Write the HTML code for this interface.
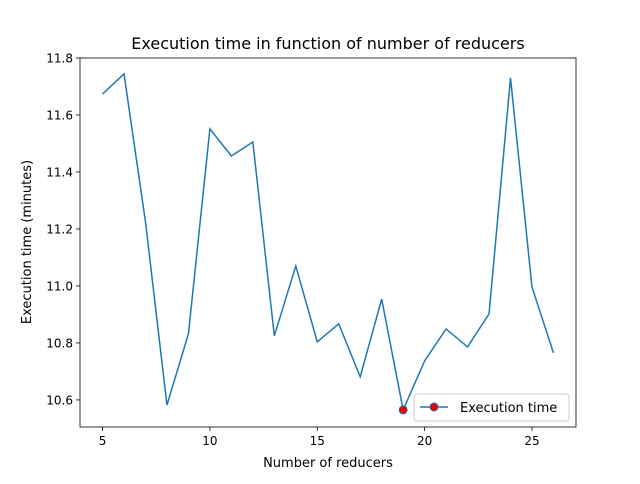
<!DOCTYPE html>
<html><head><meta charset="utf-8"><style>
body{margin:0;background:#fff;font-family:"DejaVu Sans","Liberation Sans",sans-serif;}
</style></head><body>
<svg id="chart" width="640" height="480" xmlns="http://www.w3.org/2000/svg">
<rect width="640" height="480" fill="#fff"/>
<text x="328" y="49" text-anchor="middle" font-size="16">Execution time in function of number of reducers</text>
<g id="plot"></g>
<rect x="80" y="58" width="496" height="369" fill="none" stroke="#000" stroke-width="0.8"/>
<text x="328" y="467" text-anchor="middle" font-size="13">Number of reducers</text>
<text transform="translate(31,242) rotate(-90)" text-anchor="middle" font-size="13">Execution time (minutes)</text>
<g>
<rect x="414" y="394" width="155" height="27" rx="3" fill="#fff" fill-opacity="0.8" stroke="#ccc"/>
<line x1="420" y1="407" x2="448" y2="407" stroke="#1f77b4" stroke-width="1.5"/>
<circle cx="434" cy="407" r="4" fill="#e00" stroke="#1f77b4"/>
<text x="460" y="412" font-size="13">Execution time</text>
</g>
</svg>
<script>
const reducers=[5,6,7,8,9,10,11,12,13,14,15,16,17,18,19,20,21,22,23,24,25,26];
const times=[11.674,11.744,11.225,10.582,10.832,11.551,11.456,11.505,10.825,11.070,10.804,10.867,10.681,10.954,10.565,10.737,10.849,10.786,10.902,11.730,10.996,10.765];
const xTicks=[5,10,15,20,25];
const yTicks=[10.6,10.8,11.0,11.2,11.4,11.6,11.8];
const NS="http://www.w3.org/2000/svg";
const L=80,R=576,T=58,B=427;
const xmin=3.95,xmax=27.05,ymin=10.505,ymax=11.8;
const sx=v=>L+(v-xmin)/(xmax-xmin)*(R-L);
const sy=v=>B-(v-ymin)/(ymax-ymin)*(B-T);
const g=document.getElementById('plot');
function mk(t,a){const e=document.createElementNS(NS,t);for(const k in a)e.setAttribute(k,a[k]);g.appendChild(e);return e;}
xTicks.forEach(v=>{
 const l=mk('line',{x1:sx(v),x2:sx(v),y1:B,y2:B+4,stroke:'#000','stroke-width':0.8});
 
 
 const t=mk('text',{x:sx(v),y:B+18,'text-anchor':'middle','font-size':12});
 t.textContent=v;
 
 
});
yTicks.forEach(v=>{
 const l=mk('line',{x1:L-4,x2:L,y1:sy(v),y2:sy(v),stroke:'#000','stroke-width':0.8});
 
 
 const t=mk('text',{x:L-7,y:sy(v)+4.5,'text-anchor':'end','font-size':12});
 t.textContent=v.toFixed(1);
 
 
});
const p=mk('polyline',{points:reducers.map((x,i)=>sx(x)+','+sy(times[i])).join(' '),fill:'none',stroke:'#1f77b4','stroke-width':1.5});


let mi=0;times.forEach((v,i)=>{if(v<times[mi])mi=i;});
const c=mk('circle',{cx:sx(reducers[mi]),cy:sy(times[mi]),r:4,fill:'#e00',stroke:'#1f77b4'});


</script>
</body></html>
